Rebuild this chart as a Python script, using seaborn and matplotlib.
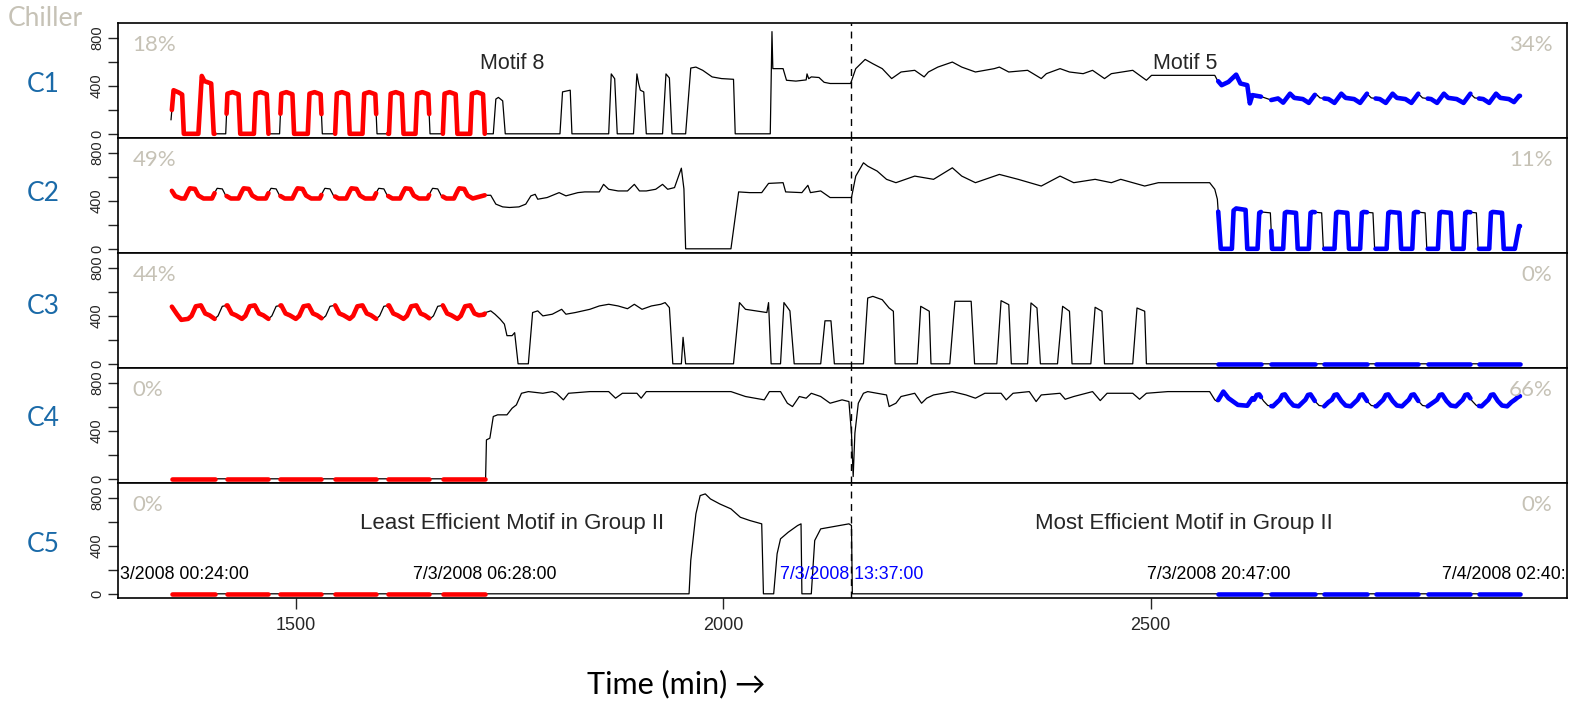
import numpy as np
import pandas as pd
import matplotlib
matplotlib.use("Agg")
import matplotlib.pyplot as plt
import seaborn as sns

# ---------------- data (minutes, load) ----------------
chillers = ["C1", "C2", "C3", "C4", "C5"]
pct_left = ["18%", "49%", "44%", "0%", "0%"]
pct_right = ["34%", "11%", "0%", "66%", "0%"]

c1_t = [1354, 1357, 1363, 1367, 1369, 1386, 1390, 1393, 1401, 1404,
        1418, 1420, 1426, 1433, 1435, 1451, 1453, 1459, 1466, 1468,
        1481, 1483, 1489, 1496, 1498, 1514, 1516, 1522, 1529, 1531,
        1546, 1548, 1554, 1561, 1563, 1578, 1580, 1586, 1593, 1595,
        1609, 1611, 1617, 1624, 1626, 1640, 1642, 1648, 1655, 1657,
        1672, 1674, 1680, 1687, 1689, 1704, 1706, 1712, 1719, 1721,
        1731, 1734, 1737, 1742, 1745, 1809, 1812, 1821, 1823,
        1866, 1869, 1873, 1876, 1895, 1899, 1901, 1903, 1907, 1910,
        1929, 1933, 1937, 1940, 1956, 1962, 1968, 1976, 1987, 1998, 2012, 2014,
        2055, 2057, 2058, 2070, 2074, 2085, 2097, 2098, 2100, 2103, 2112, 2118, 2125, 2149,
        2155, 2166, 2175, 2186, 2197, 2208, 2224, 2235, 2240, 2251, 2268, 2279, 2295,
        2317, 2323, 2334, 2356, 2372, 2378, 2394, 2405, 2421, 2432, 2446, 2454, 2479,
        2495, 2501, 2575, 2578, 2583, 2591, 2600, 2605, 2613, 2616, 2619, 2630, 2641, 2649,
        2655, 2663, 2668, 2678, 2685, 2693, 2698, 2708, 2715, 2723, 2728, 2738,
        2745, 2753, 2758, 2768, 2775, 2783, 2788, 2798, 2805, 2813, 2818, 2828,
        2835, 2843, 2848, 2858, 2866, 2874, 2879, 2889, 2896, 2904, 2909, 2919, 2925, 2931]
c1_v = [116, 364, 345, 328, 0, 0, 483, 440, 420, 0,
        0, 335, 348, 330, 0, 0, 335, 348, 330, 0,
        0, 335, 348, 330, 0, 0, 335, 348, 330, 0,
        0, 335, 348, 330, 0, 0, 335, 348, 330, 0,
        0, 335, 348, 330, 0, 0, 335, 348, 330, 0,
        0, 335, 348, 330, 0, 0, 335, 348, 330, 0,
        0, 290, 304, 275, 0, 0, 350, 364, 0,
        0, 500, 460, 0, 0, 500, 420, 364, 350, 0,
        0, 500, 466, 0, 0, 549, 557, 530, 475, 461, 455, 0,
        0, 853, 544, 544, 447, 440, 450, 500, 460, 475, 470, 430, 420, 420,
        544, 621, 585, 544, 461, 516, 530, 475, 516, 557, 599, 557, 516,
        544, 557, 516, 530, 461, 502, 544, 516, 502, 530, 461, 502, 530,
        447, 488, 488, 447, 406, 433, 494, 420, 406, 254, 323, 309, 282, 295,
        260, 335, 300, 290, 258, 335, 300, 290, 258, 335, 300, 290,
        258, 335, 300, 290, 258, 335, 300, 290, 258, 335, 300, 290,
        258, 335, 300, 290, 258, 335, 300, 290, 258, 335, 300, 290, 265, 317]

c2_t = [1354, 1359, 1366,
        1370, 1374, 1376, 1382, 1386, 1392, 1402, 1406, 1408, 1414, 1418, 1424,
        1433, 1437, 1439, 1445, 1449, 1455, 1465, 1469, 1471, 1477, 1481, 1487,
        1496, 1500, 1502, 1508, 1512, 1518, 1528, 1532, 1534, 1540, 1544, 1550,
        1559, 1563, 1565, 1571, 1575, 1581, 1591, 1595, 1597, 1603, 1607, 1613,
        1622, 1626, 1628, 1634, 1638, 1644, 1654, 1658, 1660, 1666, 1670, 1676,
        1685, 1689, 1691, 1697, 1701, 1707, 1721,
        1728, 1734, 1742, 1750, 1761, 1769, 1775, 1780, 1783, 1794, 1808, 1816,
        1830, 1838, 1855, 1860, 1866, 1877, 1888, 1896, 1902, 1910, 1921, 1929,
        1935, 1943, 1951, 1954, 1956, 2009, 2018, 2031, 2045, 2053, 2070, 2073,
        2092, 2099, 2102, 2114, 2125, 2150,
        2155, 2164, 2169, 2180, 2191, 2202, 2224, 2246, 2268, 2279, 2295, 2323,
        2345, 2372, 2394, 2410, 2435, 2454, 2465, 2493, 2509, 2569, 2575, 2578,
        2582, 2595, 2597, 2600, 2611, 2613,
        2625, 2627, 2629, 2640, 2642, 2655, 2657, 2659, 2670, 2672,
        2685, 2687, 2689, 2700, 2702, 2715, 2717, 2719, 2730, 2732,
        2745, 2747, 2749, 2760, 2762, 2776, 2778, 2780, 2791, 2793,
        2806, 2808, 2810, 2821, 2823, 2836, 2838, 2840, 2851, 2853,
        2866, 2868, 2870, 2881, 2883, 2896, 2898, 2900, 2911, 2913,
        2926, 2931]
c2_v = [495, 440, 420,
        420, 480, 505, 500, 445, 420, 420, 480, 505, 500, 445, 420,
        420, 480, 505, 500, 445, 420, 420, 480, 505, 500, 445, 420,
        420, 480, 505, 500, 445, 420, 420, 480, 505, 500, 445, 420,
        420, 480, 505, 500, 445, 420, 420, 480, 505, 500, 445, 420,
        420, 480, 505, 500, 445, 420, 420, 480, 505, 500, 445, 420,
        420, 480, 505, 500, 445, 420, 447,
        447, 373, 350, 345, 350, 373, 442, 455, 414, 428, 469, 442,
        469, 475, 475, 538, 497, 483, 483, 538, 483, 483, 497, 538,
        497, 511, 673, 500, 0, 0, 475, 469, 469, 546, 552, 475,
        469, 530, 469, 483, 428, 428,
        607, 718, 690, 649, 580, 552, 607, 580, 676, 607, 552, 621,
        580, 524, 607, 552, 580, 552, 580, 524, 552, 552, 497, 414,
        0, 0, 320, 337, 325, 0,
        0, 300, 308, 300, 0, 0, 300, 308, 300, 0,
        0, 300, 308, 300, 0, 0, 300, 308, 300, 0,
        0, 300, 308, 300, 0, 0, 300, 308, 300, 0,
        0, 300, 308, 300, 0, 0, 300, 308, 300, 0,
        0, 300, 308, 300, 0, 0, 300, 308, 300, 0,
        0, 190]

c3_t = [1355, 1361, 1366,
        1374, 1378, 1383, 1389, 1394, 1399, 1405, 1409, 1414, 1420, 1425, 1430,
        1437, 1441, 1446, 1452, 1457, 1462, 1468, 1472, 1477, 1483, 1488, 1493,
        1500, 1504, 1509, 1515, 1520, 1525, 1531, 1535, 1540, 1546, 1551, 1556,
        1563, 1567, 1572, 1578, 1583, 1588, 1594, 1598, 1603, 1609, 1614, 1619,
        1626, 1630, 1635, 1641, 1646, 1651, 1657, 1661, 1666, 1672, 1677, 1682,
        1689, 1693, 1698, 1704, 1709, 1714, 1720,
        1722, 1728, 1733, 1739, 1744, 1747, 1753, 1756, 1760, 1772, 1777, 1783,
        1789, 1800, 1811, 1816, 1827, 1844, 1855, 1866, 1877, 1888, 1896, 1905,
        1916, 1927, 1932, 1937, 1941, 1951, 1953, 1956, 2012, 2019, 2026, 2051,
        2053, 2056, 2067, 2071, 2078, 2083, 2114, 2119, 2126, 2130, 2164, 2169,
        2175, 2186, 2194, 2199, 2201, 2227, 2231, 2241, 2243, 2265, 2271, 2290,
        2294, 2320, 2325, 2334, 2337, 2356, 2360, 2367, 2371, 2391, 2397, 2405,
        2408, 2430, 2435, 2443, 2446, 2479, 2484, 2493, 2495, 2934]
c3_v = [477, 414, 367,
        375, 400, 480, 488, 420, 405, 375, 400, 480, 488, 420, 405,
        375, 400, 480, 488, 420, 405, 375, 400, 480, 488, 420, 405,
        375, 400, 480, 488, 420, 405, 375, 400, 480, 488, 420, 405,
        375, 400, 480, 488, 420, 405, 375, 400, 480, 488, 420, 405,
        375, 400, 480, 488, 420, 405, 375, 400, 480, 488, 420, 405,
        375, 400, 480, 488, 420, 405, 410,
        428, 442, 414, 373, 331, 235, 235, 260, 0, 0, 428, 442,
        400, 414, 455, 414, 428, 455, 483, 497, 483, 460, 497, 455,
        483, 497, 511, 469, 0, 0, 221, 0, 0, 511, 455, 428,
        511, 0, 0, 511, 442, 0, 0, 359, 359, 0, 0, 549,
        563, 535, 466, 439, 0, 0, 480, 439, 0, 0, 522, 522,
        0, 0, 527, 494, 0, 0, 508, 466, 0, 0, 480, 439,
        0, 0, 472, 439, 0, 0, 466, 439, 0, 0]

c4_t = [1355, 1722, 1723, 1727, 1731, 1736, 1747, 1753, 1758, 1764, 1772, 1789,
        1800, 1805, 1813, 1819, 1844, 1866, 1874, 1882, 1899, 1904, 1910, 1954,
        2009, 2026, 2048, 2054, 2067, 2075, 2081, 2089, 2097, 2103, 2114, 2125,
        2139, 2147, 2150, 2152, 2154, 2158, 2164, 2169, 2180, 2191, 2194, 2202,
        2208, 2224, 2232, 2238, 2246, 2268, 2284, 2295, 2306, 2325, 2331, 2339,
        2358, 2366, 2372, 2394, 2400, 2410, 2432, 2441, 2449, 2479, 2487, 2495,
        2520, 2569, 2575, 2578, 2585, 2591, 2602, 2613, 2619,
        2621, 2624, 2627, 2632, 2637, 2643, 2648,
        2651, 2654, 2657, 2662, 2667, 2673, 2678,
        2681, 2684, 2687, 2692, 2697, 2703, 2708,
        2712, 2715, 2718, 2723, 2728, 2734, 2739,
        2742, 2745, 2748, 2753, 2758, 2764, 2769,
        2772, 2775, 2778, 2783, 2788, 2794, 2799,
        2802, 2805, 2808, 2813, 2818, 2824, 2831,
        2835, 2838, 2841, 2846, 2851, 2857, 2862,
        2865, 2868, 2871, 2876, 2881, 2887, 2892,
        2895, 2898, 2901, 2906, 2911, 2917, 2922,
        2926, 2931]
c4_v = [0, 0, 325, 339, 520, 534, 534, 589, 617, 714, 728, 714,
        728, 714, 659, 714, 728, 728, 673, 714, 714, 673, 728, 728,
        728, 687, 659, 728, 728, 631, 603, 687, 673, 714, 687, 631,
        659, 645, 381, 19, 381, 631, 714, 728, 714, 700, 603, 631,
        687, 714, 631, 673, 700, 728, 700, 673, 714, 714, 659, 714,
        728, 645, 700, 714, 664, 687, 728, 653, 714, 714, 664, 714,
        728, 728, 659, 645, 728, 673, 617, 610, 673,
        660, 700, 705, 650, 612, 605, 640,
        660, 700, 705, 650, 612, 605, 640,
        660, 700, 705, 650, 612, 605, 640,
        660, 700, 705, 650, 612, 605, 640,
        660, 700, 705, 650, 612, 605, 640,
        660, 700, 705, 650, 612, 605, 640,
        660, 700, 705, 650, 612, 605, 640,
        660, 700, 705, 650, 612, 605, 640,
        660, 700, 705, 650, 612, 605, 640,
        660, 700, 705, 650, 612, 605, 640,
        660, 690]

c5_t = [1355, 1960, 1962, 1968, 1973, 1979, 1985, 1996, 2009, 2020, 2031, 2045,
        2047, 2059, 2063, 2067, 2076, 2087, 2091, 2092, 2103, 2107, 2114, 2125,
        2136, 2147, 2150, 2151, 2934]
c5_v = [0, 0, 278, 667, 820, 834, 792, 750, 709, 639, 612, 584,
        0, 0, 334, 459, 514, 570, 584, 0, 0, 445, 542, 556,
        570, 584, 570, 0, 0]

red_start = [1355, 1419, 1482, 1546, 1608, 1672]
red_end = [1405, 1468, 1530, 1594, 1656, 1721]
blue_start = [2579, 2641, 2703, 2763, 2824, 2884]
blue_end = [2629, 2692, 2753, 2813, 2874, 2932]

# timestamp labels (as visible in the chart; outer ones are cut by the frame)
stamp_t = [1294, 1721, 2150, 2580, 2985]
stamp_lbl = ["3/2008 00:24:00", "7/3/2008 06:28:00", "7/3/2008 13:37:00",
             "7/3/2008 20:47:00", "7/4/2008 02:40:"]
stamp_ha = ["left", "center", "center", "center", "right"]
stamp_col = ["black", "black", "blue", "black", "black"]
split_t = 2150

series_t = [c1_t, c2_t, c3_t, c4_t, c5_t]
series_v = [c1_v, c2_v, c3_v, c4_v, c5_v]

# ---------------- figure ----------------
sns.set_style("white")
plt.rcParams["font.family"] = ["Liberation Sans", "DejaVu Sans"]

W, H = 1575, 703
fig = plt.figure(figsize=(W / 100, H / 100), dpi=100)

left_px, right_px = 118, 1567
top_px, panel_h = 23, 115
slide_font = ["Lato", "DejaVu Sans"]
gray_txt = "#c6c2b6"
blue_txt = "#1a6aa8"


def window(T, V, a, b):
    T = np.asarray(T, float)
    V = np.asarray(V, float)
    inside = (T > a) & (T < b)
    tt = np.concatenate([[a], T[inside], [b]])
    return tt, np.interp(tt, T, V)


axes = []
for i in range(5):
    y0 = 1 - (top_px + panel_h * (i + 1)) / H
    ax = fig.add_axes([left_px / W, y0, (right_px - left_px) / W, panel_h / H])
    axes.append(ax)
    T, V = series_t[i], series_v[i]
    df = pd.DataFrame({"t": T, "v": V})
    sns.lineplot(data=df, x="t", y="v", ax=ax, color="black", lw=0.9,
                 estimator=None, sort=False, zorder=2)
    for starts, ends, col in [(red_start, red_end, "#ff0000"),
                              (blue_start, blue_end, "#0000ff")]:
        parts = []
        for k, (a, b) in enumerate(zip(starts, ends)):
            tt, vv = window(T, V, a, b)
            parts.append(pd.DataFrame({"t": tt, "v": vv, "occ": k}))
        seg = pd.concat(parts, ignore_index=True)
        sns.lineplot(data=seg, x="t", y="v", units="occ", estimator=None,
                     sort=False, ax=ax, color=col, lw=3.3, zorder=3,
                     solid_capstyle="round", solid_joinstyle="round")
    ax.axvline(split_t, color="black", ls=(0, (5, 4)), lw=1.0, zorder=4)
    ax.set_xlim(1292, 2987)
    ax.set_ylim(-35, 925)
    ax.set_yticks([0, 200, 400, 600, 800])
    ax.set_yticklabels(["0", "", "400", "", "800"], rotation=90, va="center",
                       fontsize=10.5)
    ax.tick_params(axis="y", direction="out", length=7, width=1, pad=3,
                   left=True)
    for s in ax.spines.values():
        s.set_linewidth(1.2)
        s.set_color("black")
    ax.set_xlabel("")
    ax.set_ylabel("")
    ax.set_facecolor("white")
    if i < 4:
        ax.set_xticks([])
    else:
        ax.set_xticks([1500, 2000, 2500])
        ax.set_xticklabels(["1500", "2000", "2500"], fontsize=13)
        ax.tick_params(axis="x", direction="out", length=8, width=1, pad=6,
                       bottom=True)
    ax.text(0.010, 0.81, pct_left[i], transform=ax.transAxes, ha="left",
            va="center", fontsize=16, color=gray_txt, family=slide_font)
    ax.text(0.990, 0.81, pct_right[i], transform=ax.transAxes, ha="right",
            va="center", fontsize=16, color=gray_txt, family=slide_font)

axes[0].text(1753, 585, "Motif 8", ha="center", va="center", fontsize=15.5)
axes[0].text(2540, 585, "Motif 5", ha="center", va="center", fontsize=15.5)
axes[4].text(1753, 584, "Least Efficient Motif in Group II", ha="center",
             va="center", fontsize=16)
axes[4].text(2539, 584, "Most Efficient Motif in Group II", ha="center",
             va="center", fontsize=16)
for t, lbl, col, ha in zip(stamp_t, stamp_lbl, stamp_col, stamp_ha):
    axes[4].text(t, 120, lbl, ha=ha, va="baseline", fontsize=12.8,
                 color=col, zorder=5)

label_y = [84, 194, 307, 418, 545]
for name, yp in zip(chillers, label_y):
    fig.text(43 / W, 1 - yp / H, name, ha="center", va="center", fontsize=19,
             color=blue_txt, family=slide_font)
fig.text(8 / W, 1 - 19 / H, "Chiller", ha="left", va="center", fontsize=19,
         color=gray_txt, family=slide_font)
fig.text(676 / W, 1 - 684 / H, "Time (min) \u2192", ha="center", va="center",
         fontsize=22, color="black", family=slide_font)

fig.savefig("out.png", dpi=100, facecolor="white")
